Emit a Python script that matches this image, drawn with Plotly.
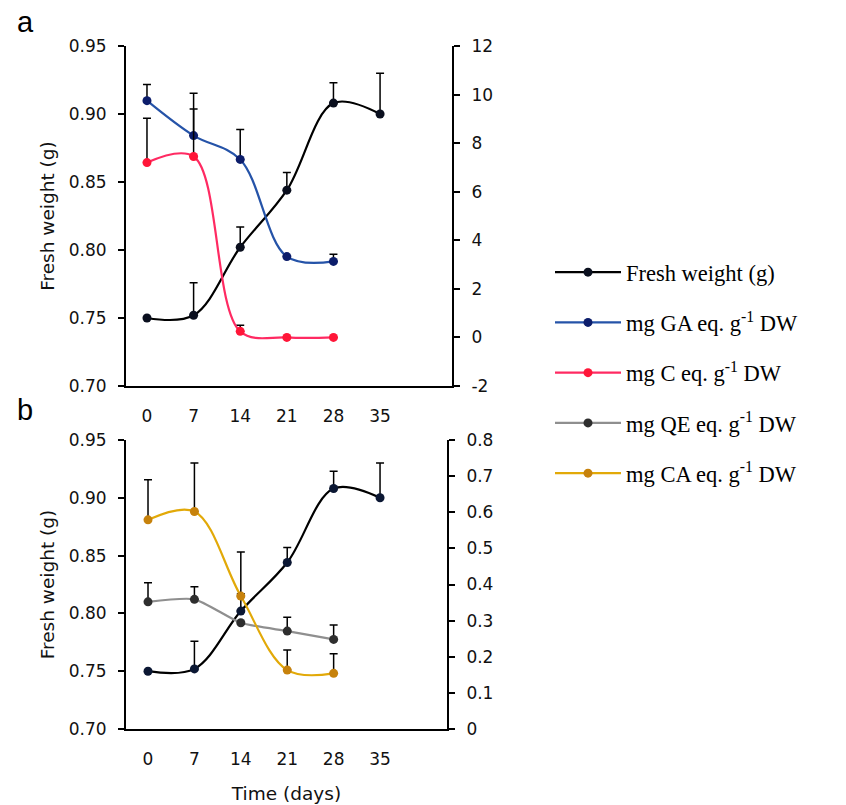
import plotly.graph_objects as go

# Sampling days
days = [0, 7, 14, 21, 28, 35]
days_extract = [0, 7, 14, 21, 28]

# Fresh weight (g), shared by both panels
fresh_weight = [0.750, 0.752, 0.802, 0.844, 0.908, 0.900]
fresh_weight_err = [None, 0.024, 0.015, 0.013, 0.015, 0.030]

# Panel a: phenolics (GA) and flavan-3-ols (C), mg eq. g-1 DW
ga_values = [9.75, 8.31, 7.33, 3.33, 3.13]
ga_err = [0.66, 1.74, 1.23, None, 0.29]
c_values = [7.20, 7.45, 0.25, 0.00, 0.00]
c_err = [1.82, 1.96, 0.25, None, None]

# Panel b: flavonoids (QE) and caffeic acid derivatives (CA), mg eq. g-1 DW
qe_values = [0.352, 0.359, 0.294, 0.271, 0.248]
qe_err = [0.053, 0.035, None, 0.038, 0.040]
ca_values = [0.579, 0.602, 0.368, 0.163, 0.154]
ca_err = [0.111, 0.134, 0.122, 0.056, 0.054]

# Tick values and labels
x_ticks = [0, 7, 14, 21, 28, 35]
right_a_ticks = [-2, 0, 2, 4, 6, 8, 10, 12]
right_a_labels = ["-2", "0", "2", "4", "6", "8", "10", "12"]

legend_names = [
    "Fresh weight (g)",
    "mg GA eq. g<sup>-1</sup> DW",
    "mg C eq. g<sup>-1</sup> DW",
    "mg QE eq. g<sup>-1</sup> DW",
    "mg CA eq. g<sup>-1</sup> DW",
]

W, H = 846, 805
SANS = "DejaVu Sans"
SERIF = "Liberation Serif"


def err(values):
    return dict(type="data", symmetric=False, array=values,
                arrayminus=[0 if v is not None else None for v in values],
                color="black", thickness=1.5, width=4)


def series(x, y, e, name, line_color, marker_color, xa, ya, group,
           show=True, smoothing=1.0):
    return go.Scatter(
        x=x, y=y, name=name, xaxis=xa, yaxis=ya,
        mode="lines+markers",
        line=dict(color=line_color, width=2.2, shape="spline", smoothing=smoothing),
        marker=dict(color=marker_color, size=9,
                    line=dict(color=marker_color, width=0)),
        error_y=err(e),
        legendgroup=group, showlegend=show,
    )


fig = go.Figure()

# Panel a
fig.add_trace(series(days, fresh_weight, fresh_weight_err, legend_names[0],
                     "#000000", "#0a0f1e", "x", "y", "g1"))
fig.add_trace(series(days_extract, ga_values, ga_err, legend_names[1],
                     "#2553a8", "#0c1d6b", "x", "y2", "g2"))
fig.add_trace(series(days_extract, c_values, c_err, legend_names[2],
                     "#ff2a62", "#ff1638", "x", "y2", "g3"))

# Panel b
fig.add_trace(series(days, fresh_weight, fresh_weight_err, legend_names[0],
                     "#000000", "#0b1733", "x2", "y3", "g1", show=False))
fig.add_trace(series(days_extract, qe_values, qe_err, legend_names[3],
                     "#8f8f8f", "#2e2e2e", "x2", "y4", "g4", smoothing=0.6))
fig.add_trace(series(days_extract, ca_values, ca_err, legend_names[4],
                     "#e2a908", "#c7820c", "x2", "y4", "g5"))

axis_common = dict(showline=True, linewidth=2, linecolor="black",
                   showgrid=False, zeroline=False, automargin=False,
                   tickfont=dict(family=SANS, size=17, color="#111"))

x_common = dict(axis_common, tickmode="array", tickvals=x_ticks, ticks="",
                ticklabelstandoff=14)
y_common = dict(axis_common, ticks="outside", ticklen=6, tickwidth=2,
                tickcolor="black", ticklabelstandoff=8)

title_font = dict(family=SANS, size=18.5, color="#111")

top_dom = [1 - 386 / H, 1 - 46 / H]
bot_dom = [1 - 729 / H, 1 - 440 / H]

fig.update_layout(
    width=W, height=H,
    margin=dict(l=0, r=0, t=0, b=0, autoexpand=False),
    paper_bgcolor="white", plot_bgcolor="white",
    xaxis=dict(x_common, domain=[126 / W, 452 / W], range=[-3.15, 45.8],
               anchor="y"),
    yaxis=dict(y_common, domain=top_dom, range=[0.70, 0.95], dtick=0.05,
               tick0=0.70, tickformat=".2f", anchor="x",
               title=dict(text="Fresh weight (g)", font=title_font, standoff=9)),
    yaxis2=dict(y_common, overlaying="y", side="right", anchor="x",
                range=[-2, 12], tickmode="array", tickvals=right_a_ticks,
                ticktext=right_a_labels),
    xaxis2=dict(x_common, domain=[126 / W, 447 / W], range=[-3.32, 45.1],
                anchor="y3",
                title=dict(text="Time (days)", font=title_font, standoff=19)),
    yaxis3=dict(y_common, domain=bot_dom, range=[0.70, 0.95], dtick=0.05,
                tick0=0.70, tickformat=".2f", anchor="x2",
                title=dict(text="Fresh weight (g)", font=title_font, standoff=9)),
    yaxis4=dict(y_common, overlaying="y3", side="right", anchor="x2",
                range=[0, 0.8], dtick=0.1, tick0=0),
    legend=dict(x=550 / W, xanchor="left", y=1 - 251 / H, yanchor="top",
                font=dict(family=SERIF, size=22.5, color="black"),
                tracegroupgap=18, itemwidth=66, bgcolor="rgba(0,0,0,0)"),
    showlegend=True,
    annotations=[
        dict(text="a", x=15 / W, y=1 - 22 / H, xref="paper", yref="paper",
             xanchor="left", yanchor="middle", showarrow=False,
             font=dict(family="Liberation Sans", size=29, color="black")),
        dict(text="b", x=15 / W, y=1 - 410 / H, xref="paper", yref="paper",
             xanchor="left", yanchor="middle", showarrow=False,
             font=dict(family="Liberation Sans", size=29, color="black")),
    ],
)

fig.write_html("out.html")
